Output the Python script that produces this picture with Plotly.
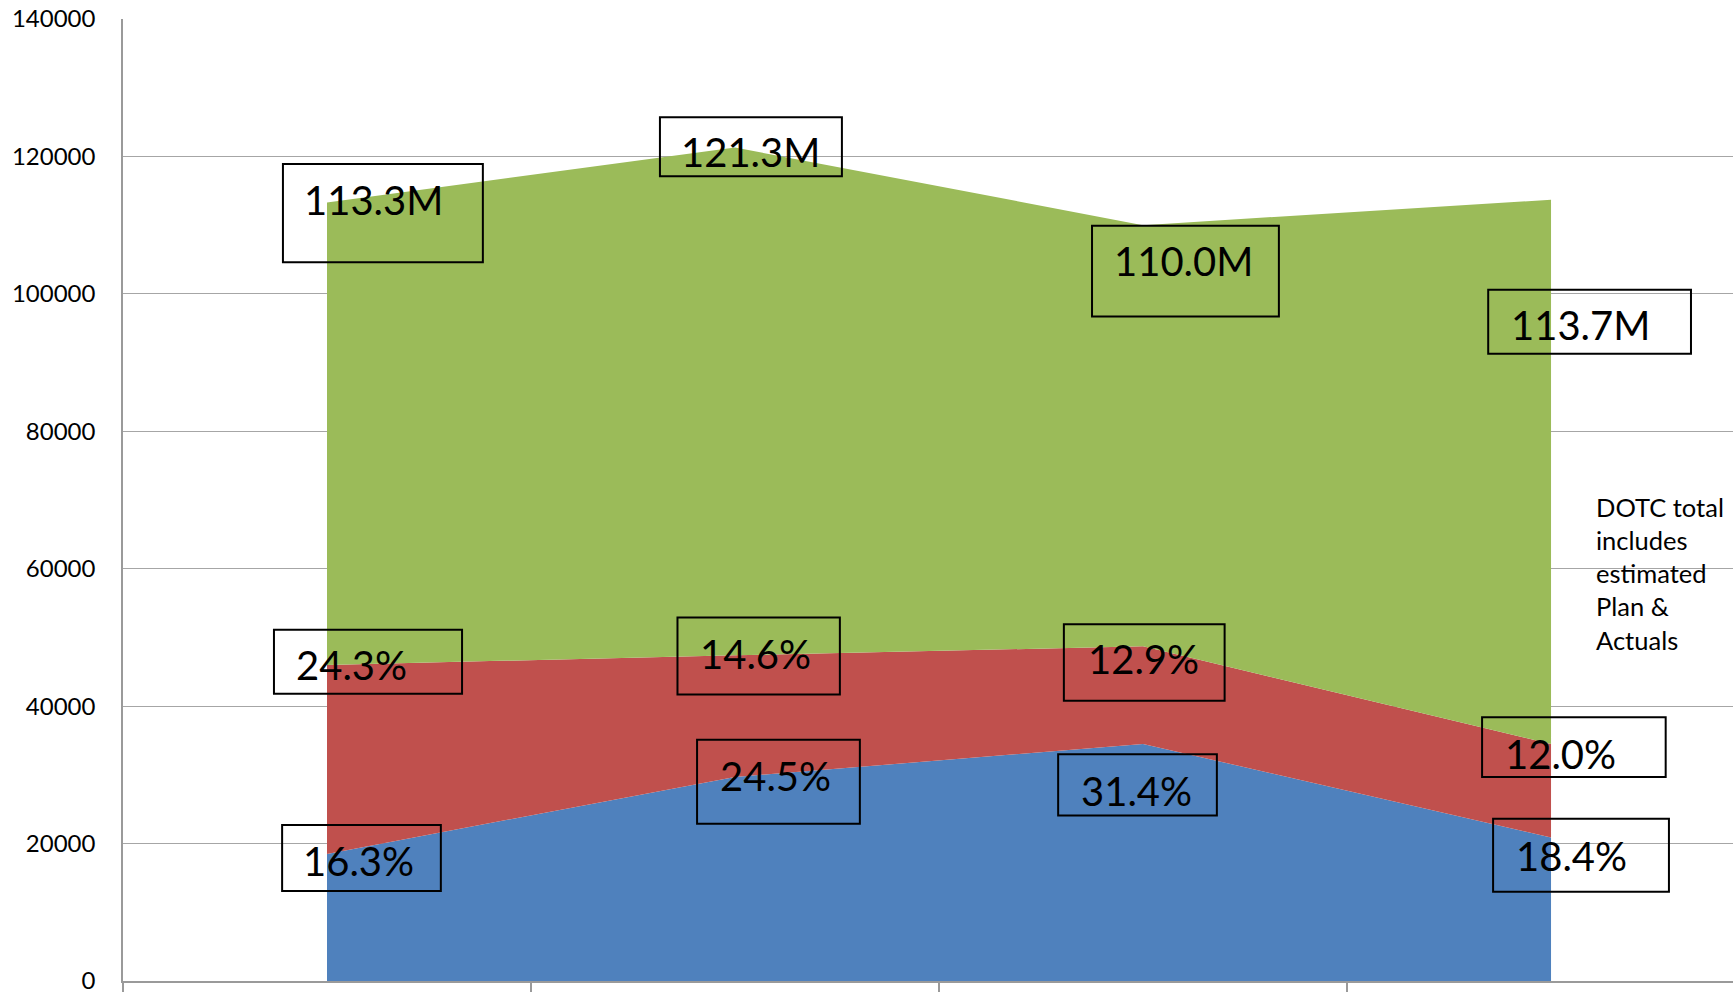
import plotly.graph_objects as go

# ---- data ----
categories = ["Period 1", "Period 2", "Period 3", "Period 4"]
blue_vals = [18500, 29700, 34500, 20900]
red_vals = [27500, 17700, 14200, 13600]
green_vals = [67300, 73900, 61300, 79200]
series_names = ["Series A", "Series B", "Series C"]
series_colors = ["#4F81BD", "#C0504D", "#9BBB59"]

y_ticks = [0, 20000, 40000, 60000, 80000, 100000, 120000, 140000]

# label boxes: text, text-center (x, y), box (x0, x1, y0, y1) in data units
label_texts = ["113.3M", "121.3M", "110.0M", "113.7M",
               "24.3%", "14.6%", "12.9%", "12.0%",
               "16.3%", "24.5%", "31.4%", "18.4%"]
label_x = [0.115, 1.039, 2.100, 3.071,
           0.060, 1.051, 2.000, 3.024,
           0.078, 1.100, 1.985, 3.050]
label_y = [113700, 120700, 104800, 95500,
           46000, 47600, 46800, 33100,
           17500, 29900, 27700, 18200]
box_x0 = [-0.108, 0.816, 1.875, 2.846,
          -0.130, 0.859, 1.806, 2.831,
          -0.110, 0.907, 1.792, 2.858]
box_x1 = [0.382, 1.262, 2.333, 3.343,
          0.331, 1.257, 2.200, 3.281,
          0.279, 1.306, 2.181, 3.289]
box_y0 = [104600, 117100, 96700, 91300,
          41800, 41700, 40800, 29700,
          13100, 22900, 24100, 13000]
box_y1 = [118900, 125700, 109900, 100600,
          51100, 52900, 51900, 38400,
          22700, 35100, 33000, 23600]

note_text = "DOTC total<br>includes<br>estimated<br>Plan &amp;<br>Actuals"

FONT = "Lato, 'Open Sans', sans-serif"

fig = go.Figure()
for name, vals, col in zip(series_names, [blue_vals, red_vals, green_vals], series_colors):
    fig.add_trace(go.Scatter(
        x=categories, y=vals, name=name, stackgroup="one",
        mode="none", fillcolor=col, line=dict(width=0),
        hoverinfo="x+y+name",
    ))

shapes = []
for x0, x1, y0, y1 in zip(box_x0, box_x1, box_y0, box_y1):
    shapes.append(dict(type="rect", xref="x", yref="y", x0=x0, x1=x1, y0=y0, y1=y1,
                       line=dict(color="black", width=2), fillcolor="rgba(0,0,0,0)"))

annotations = []
for t, x, y in zip(label_texts, label_x, label_y):
    annotations.append(dict(text=t, x=x, y=y, xref="x", yref="y", showarrow=False,
                            xanchor="center", yanchor="middle",
                            font=dict(family=FONT, size=40, color="black")))
annotations.append(dict(text=note_text, x=3.105, y=59300, xref="x", yref="y",
                        showarrow=False, xanchor="left", yanchor="middle", align="left",
                        font=dict(family=FONT, size=25.5, color="black")))

fig.update_layout(
    width=1733, height=994,
    margin=dict(l=123, r=0, t=19, b=7),
    plot_bgcolor="white", paper_bgcolor="white",
    showlegend=False,
    font=dict(family=FONT, color="black"),
    shapes=shapes, annotations=annotations,
    xaxis=dict(type="category", range=[-0.5, 3.446], showgrid=False,
               showticklabels=False, tickson="boundaries", ticks="outside",
               ticklen=9, tickcolor="#9A9A9A", tickwidth=1.5,
               showline=True, linecolor="#9A9A9A", linewidth=1.5, zeroline=False),
    yaxis=dict(range=[0, 140000], tickvals=y_ticks, tickformat="d",
               showgrid=True, gridcolor="#A6A6A6", gridwidth=1,
               showline=True, linecolor="#9A9A9A", linewidth=1.5, zeroline=False,
               ticks="", ticklabelstandoff=21, ticklabeloverflow="allow",
               tickfont=dict(family=FONT, size=24, color="black")),
)

fig.write_html("out.html")
